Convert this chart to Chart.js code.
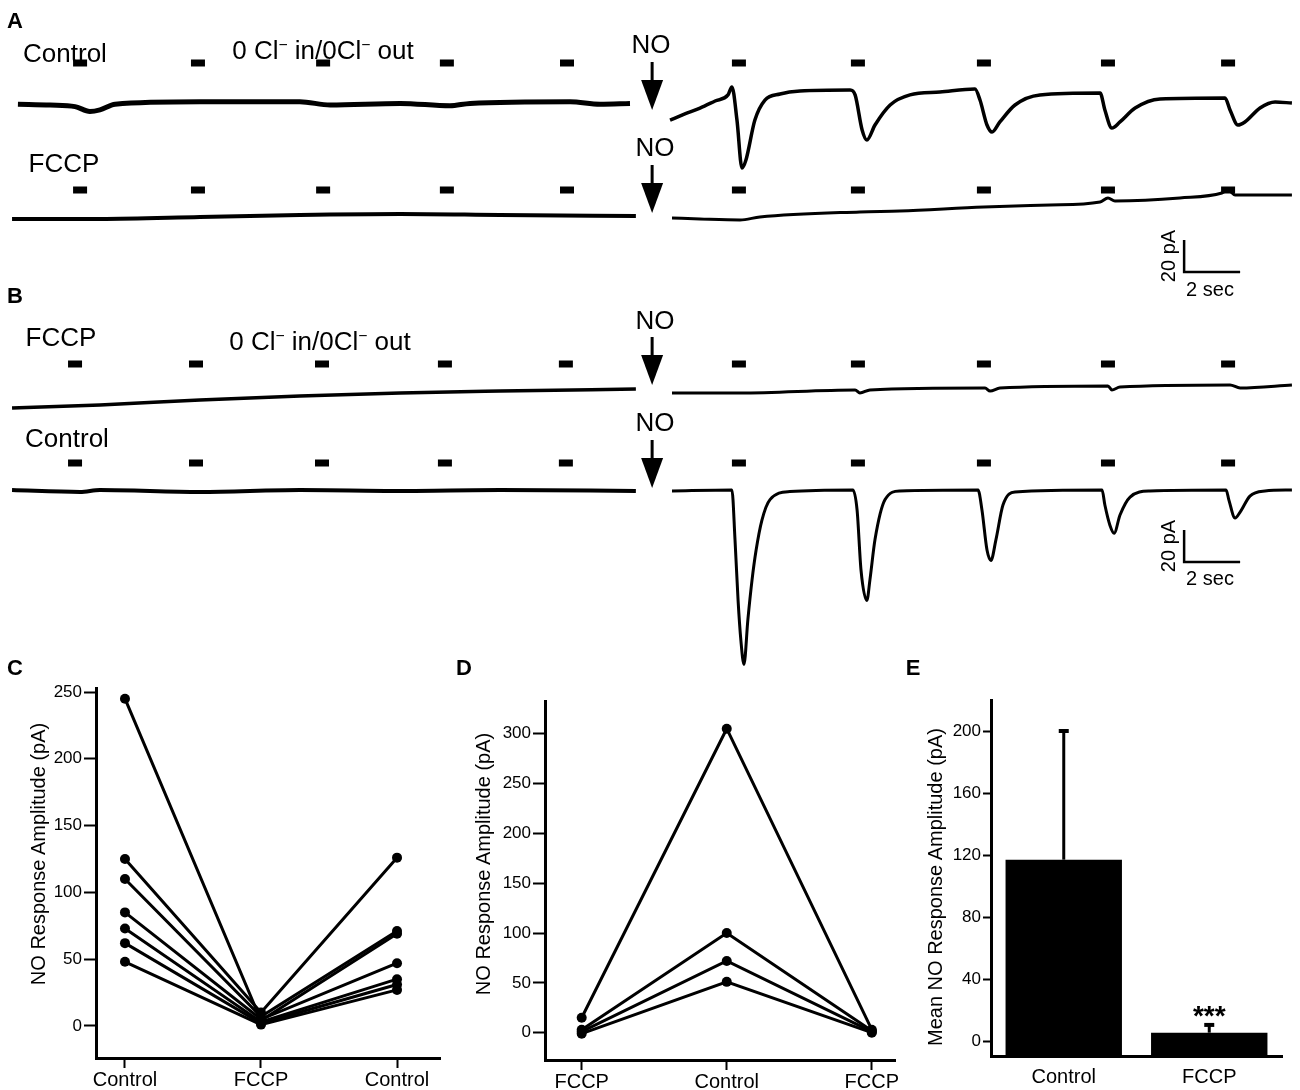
<!DOCTYPE html>
<html>
<head>
<meta charset="utf-8">
<script src="https://cdn.jsdelivr.net/npm/chart.js@4.4.0/dist/chart.umd.min.js"></script>
<style>
  body { margin: 0; background: #fff; }
  #fig { position: relative; width: 1300px; height: 1090px; font-family: "Liberation Sans", Arial, sans-serif; color: #000; }
  canvas { position: absolute; }
  .t { position: absolute; white-space: nowrap; line-height: 1; transform: translate(-50%, -50%); }
  .lab { font-size: 26px; }
  .panel { font-size: 22px; font-weight: bold; }
  .cal { font-size: 20px; }
  .ytitle { font-size: 20px; transform: translate(-50%, -50%) rotate(-90deg); }
  sup { font-size: 0.6em; vertical-align: 0.6em; line-height: 0; }
</style>
</head>
<body>
<div id="fig">
  <canvas id="traces" width="1300" height="670" style="left:0px;top:0px"></canvas>
  <canvas id="chartC" width="450" height="435" style="left:0px;top:655px"></canvas>
  <canvas id="chartD" width="450" height="435" style="left:450px;top:655px"></canvas>
  <canvas id="chartE" width="400" height="435" style="left:900px;top:655px"></canvas>

  <div class="t panel" style="left:15px;top:21px">A</div>
  <div class="t lab" style="left:65px;top:53px">Control</div>
  <div class="t lab" style="left:323px;top:50px">0 Cl<sup>−</sup> in/0Cl<sup>−</sup> out</div>
  <div class="t lab" style="left:651px;top:44px">NO</div>
  <div class="t lab" style="left:64px;top:163px">FCCP</div>
  <div class="t lab" style="left:655px;top:147px">NO</div>
  <div class="t cal ytitle" style="left:1168px;top:256px">20 pA</div>
  <div class="t cal" style="left:1210px;top:289px">2 sec</div>

  <div class="t panel" style="left:15px;top:296px">B</div>
  <div class="t lab" style="left:61px;top:337px">FCCP</div>
  <div class="t lab" style="left:320px;top:341px">0 Cl<sup>−</sup> in/0Cl<sup>−</sup> out</div>
  <div class="t lab" style="left:655px;top:320px">NO</div>
  <div class="t lab" style="left:67px;top:438px">Control</div>
  <div class="t lab" style="left:655px;top:422px">NO</div>
  <div class="t cal ytitle" style="left:1168px;top:546px">20 pA</div>
  <div class="t cal" style="left:1210px;top:578px">2 sec</div>

  <div class="t panel" style="left:15px;top:668px">C</div>
  <div class="t panel" style="left:464px;top:668px">D</div>
  <div class="t panel" style="left:913px;top:668px">E</div>
  <div class="t ytitle" style="left:38px;top:854px">NO Response Amplitude (pA)</div>
  <div class="t ytitle" style="left:483px;top:864px">NO Response Amplitude (pA)</div>
  <div class="t ytitle" style="left:935px;top:887px">Mean NO Response Amplitude (pA)</div>
</div>

<script>
// ---- A/B recordings: time (s) and current (pA) relative to each row's baseline; null = gap at NO application
const tA1 = [0.64, 1.79, 2.68, 3.21, 3.57, 4.11, 7.14, 10.71, 11.79, 14.29, 16.07, 16.79, 20.36, 21.43, 22.5, 23.4,
             23.93, 24.46, 25.0, 25.54, 26.0, 26.14, 26.32, 26.5, 26.64, 26.96, 27.32, 27.86, 28.57, 30.36, 30.54,
             30.79, 30.96, 31.25, 31.79, 32.5, 33.57, 34.82, 35.0, 35.25, 35.43, 35.71, 36.25, 37.14, 39.29, 39.46,
             39.71, 40.0, 40.54, 41.43, 43.75, 43.93, 44.21, 44.46, 45.0, 45.54, 46.14];
const iA1 = [0.5, 0, -1, -4, -3, 0.5, 2, 2, 0, 1, -0.5, 1, 2, 0.5, 1, null,
             -9.4, -5.6, -1.9, 2.5, 6.3, 11.3, -9.4, -39.4, -34.4, -9.4, 3.1, 6.9, 8.8, 9.4, 6.3,
             -15.6, -21.9, -12.5, 0, 6.3, 8.1, 10, 3.1, -12.5, -16.9, -10.6, 0, 6.3, 7.5, -3.1,
             -14.4, -10.6, -1.9, 3.8, 4.4, -3.1, -12.5, -10.6, -1.9, 1.9, 1.2];

const tA2 = [0.43, 3.57, 7.14, 10.71, 14.29, 17.86, 22.71, 23.4,
             24.0, 25.0, 26.43, 27.14, 30.71, 32.14, 35.14, 37.5, 39.29, 39.57, 39.82, 42.14, 43.64, 43.86, 44.11, 46.14];
const iA2 = [-0.6, -0.6, 0.6, 1.9, 2.5, 1.9, 1.2, null,
             0, -0.6, -1.2, 0.6, 3.8, 4.4, 6.9, 8.1, 10, 12.5, 10.6, 12.5, 15.6, 17.5, 14.4, 14.4];

const tB1 = [0.43, 3.57, 7.14, 10.71, 14.29, 17.86, 22.71, 23.4,
             24.0, 26.43, 30.54, 30.71, 31.07, 35.18, 35.36, 35.71, 39.57, 39.71, 40.0, 43.93, 44.29, 46.14];
const iB1 = [-5, -3.1, 0, 2.5, 4.4, 5.6, 6.9, null,
             4.4, 4.4, 6.3, 4.4, 6.3, 7.5, 5.6, 7.5, 8.8, 6.3, 8.1, 9.4, 7.5, 9.4];

const tB2 = [0.43, 2.86, 3.57, 7.14, 10.71, 14.29, 17.86, 22.71, 23.4,
             24.0, 26.14, 26.25, 26.36, 26.46, 26.57, 26.71, 26.86, 27.0, 27.21, 27.5, 28.21,
             30.46, 30.61, 30.75, 30.96, 31.07, 31.25, 31.61, 32.14,
             34.93, 35.07, 35.25, 35.39, 35.57, 35.82, 36.25,
             39.36, 39.46, 39.64, 39.79, 40.0, 40.36, 41.07,
             43.79, 43.89, 44.11, 44.29, 44.64, 45.18, 46.14];
const iB2 = [0, -1.2, 0, -1.2, 0, -0.6, 0, -0.6, null,
             -0.6, 0, -31, -69, -94, -109, -81, -56, -38, -19, -6, -1,
             0, -12.5, -50, -69, -56, -31, -6, -0.6,
             0, -12.5, -37.5, -44, -31, -9.4, -1.2,
             0, -9.4, -22, -27, -15.6, -4.4, -0.6,
             0, -6.3, -17.5, -13.8, -3.8, -0.6, 0];

const puffA = [2.86, 7.07, 11.54, 15.96, 20.25, 26.39, 30.64, 35.14, 39.57, 43.86];
const puffB = [2.68, 7.0, 11.5, 15.89, 20.21, 26.39, 30.64, 35.14, 39.57, 43.86];
const noTime = 23.29;
const calPA = 20, calSec = 2;

// ---- C: paired amplitudes
const catsC = ['Control', 'FCCP', 'Control'];
const cCtrl1 = [245, 125, 110, 85, 73, 62, 48];
const cFccp = [4, 10, 7, 5, 3, 2, 1];
const cCtrl2 = [69, 126, 71, 47, 35, 31, 27];

// ---- D: paired amplitudes
const catsD = ['FCCP', 'Control', 'FCCP'];
const dFccp1 = [15, 3, 1, -1];
const dCtrl = [305, 100, 72, 51];
const dFccp2 = [3, 2, 1, 0];

// ---- E: means
const catsE = ['Control', 'FCCP'];
const eMean = [117, 5.4];
const eSem = [83, 5];
const eSig = ['', '***'];

// layout of the recording panel
const PX_PER_S = 28, PX_PER_PA = 1.6;
const toY = px => px / PX_PER_PA;
const rows = [
  { t: tA1, i: iA1, base: 105, wL: 5, wR: 3.5 },
  { t: tA2, i: iA2, base: 218, wL: 4, wR: 3 },
  { t: tB1, i: iB1, base: 400, wL: 3.5, wR: 3 },
  { t: tB2, i: iB2, base: 490, wL: 4, wR: 3 }
];
const markRows = [{ y: 63, times: puffA }, { y: 190, times: puffA }, { y: 364, times: puffB }, { y: 463, times: puffB }];
const arrows = [[62, 110], [165, 213], [337, 385], [440, 488]];
const calBottoms = [272, 562];
const calX = 42.29;

const base = { responsive: false, animation: false, events: [],
  plugins: { legend: { display: false }, tooltip: { enabled: false } } };

const traceSets = [];
rows.forEach(r => {
  traceSets.push({
    data: r.t.map((t, k) => ({ x: t, y: r.i[k] === null ? null : toY(r.base) - r.i[k] })),
    borderColor: '#000', borderWidth: r.wR, pointRadius: 0, spanGaps: false,
    cubicInterpolationMode: 'monotone',
    segment: { borderWidth: c => (c.p1.parsed.x < noTime ? r.wL : r.wR) }
  });
});
markRows.forEach(m => {
  const pts = [];
  m.times.forEach(t => {
    pts.push({ x: t - 0.25, y: toY(m.y) }, { x: t + 0.25, y: toY(m.y) }, { x: t + 0.3, y: null });
  });
  traceSets.push({ data: pts, borderColor: '#000', borderWidth: 7, borderCapStyle: 'butt', pointRadius: 0, spanGaps: false });
});
calBottoms.forEach(b => {
  traceSets.push({
    data: [{ x: calX, y: toY(b) - calPA }, { x: calX, y: toY(b) }, { x: calX + calSec, y: toY(b) }],
    borderColor: '#000', borderWidth: 2.5, borderJoinStyle: 'miter', pointRadius: 0
  });
});

const arrowPlugin = {
  id: 'arrows',
  afterDatasetsDraw(chart) {
    const { ctx, scales: { x, y } } = chart;
    const px = x.getPixelForValue(noTime);
    ctx.save();
    ctx.strokeStyle = '#000';
    ctx.fillStyle = '#000';
    arrows.forEach(([a, b]) => {
      const y0 = y.getPixelForValue(toY(a)), y1 = y.getPixelForValue(toY(b));
      ctx.lineWidth = 3;
      ctx.beginPath(); ctx.moveTo(px, y0); ctx.lineTo(px, y1 - 20); ctx.stroke();
      ctx.beginPath(); ctx.moveTo(px - 11, y1 - 30); ctx.lineTo(px + 11, y1 - 30); ctx.lineTo(px, y1); ctx.closePath(); ctx.fill();
    });
    ctx.restore();
  }
};

new Chart(document.getElementById('traces'), {
  type: 'line',
  data: { datasets: traceSets },
  options: { ...base, layout: { padding: 0 },
    scales: {
      x: { type: 'linear', display: false, min: 0, max: 1300 / PX_PER_S },
      y: { type: 'linear', display: false, reverse: true, min: 0, max: 670 / PX_PER_PA }
    } },
  plugins: [arrowPlugin]
});

// ---- paired line charts (C, D)
const tickFont = { family: '"Liberation Sans", Arial, sans-serif', size: 17 };
const catFont = { family: '"Liberation Sans", Arial, sans-serif', size: 20 };
function pairedChart(id, cats, cols, o) {
  const sets = cols[0].map((_, k) => ({
    data: cols.map((c, j) => ({ x: j, y: c[k] })),
    borderColor: '#000', borderWidth: 3, pointRadius: 5, pointBackgroundColor: '#000', pointBorderWidth: 0, clip: false
  }));
  new Chart(document.getElementById(id), {
    type: 'line',
    data: { datasets: sets },
    options: { ...base, layout: { padding: { left: 0, top: o.top, right: o.right, bottom: 0 } },
      scales: {
        x: { type: 'linear', min: o.xMin, max: o.xMax,
          afterBuildTicks: s => { s.ticks = cats.map((_, j) => ({ value: j })); },
          afterFit: s => { s.height = o.xH; },
          ticks: { callback: v => cats[v], font: catFont, color: '#000', padding: 0, autoSkip: false, maxRotation: 0 },
          grid: { drawOnChartArea: false, tickLength: 10, tickWidth: 2, tickColor: '#000' },
          border: { color: '#000', width: 3 } },
        y: { type: 'linear', min: o.yMin, max: o.yMax,
          afterBuildTicks: s => { s.ticks = o.yTicks.map(v => ({ value: v })); },
          afterFit: s => { s.width = o.yW; },
          ticks: { font: tickFont, color: '#000', padding: 2 },
          grid: { drawOnChartArea: false, tickLength: 12, tickWidth: 2, tickColor: '#000' },
          border: { color: '#000', width: 3 } }
      } }
  });
}

pairedChart('chartC', catsC, [cCtrl1, cFccp, cCtrl2],
  { top: 33, right: 10, xH: 32, yW: 96, xMin: -0.213, xMax: 2.316, yMin: -24, yMax: 253, yTicks: [0, 50, 100, 150, 200, 250] });
pairedChart('chartD', catsD, [dFccp1, dCtrl, dFccp2],
  { top: 46, right: 5, xH: 30, yW: 95, xMin: -0.253, xMax: 2.16, yMin: -27.4, yMax: 332.8, yTicks: [0, 50, 100, 150, 200, 250, 300] });

// ---- E: bar chart with SEM
const E_MIN = -10.1;
const errPlugin = {
  id: 'errbars',
  afterDatasetsDraw(chart) {
    const { ctx, scales: { y } } = chart;
    const meta = chart.getDatasetMeta(0);
    ctx.save();
    ctx.strokeStyle = '#000';
    ctx.fillStyle = '#000';
    meta.data.forEach((bar, k) => {
      const top = y.getPixelForValue(eMean[k] + eSem[k]);
      ctx.lineWidth = 3;
      ctx.beginPath(); ctx.moveTo(bar.x, bar.y); ctx.lineTo(bar.x, top); ctx.stroke();
      ctx.lineWidth = 4;
      ctx.beginPath(); ctx.moveTo(bar.x - 5, top); ctx.lineTo(bar.x + 5, top); ctx.stroke();
      if (eSig[k]) {
        ctx.font = 'bold 28px "Liberation Sans", Arial, sans-serif';
        ctx.textAlign = 'center';
        ctx.textBaseline = 'middle';
        ctx.fillText(eSig[k], bar.x, top - 8);
      }
    });
    ctx.restore();
  }
};

new Chart(document.getElementById('chartE'), {
  type: 'bar',
  data: { labels: catsE, datasets: [{ data: eMean, base: E_MIN, backgroundColor: '#000', barPercentage: 0.8, categoryPercentage: 1.0 }] },
  options: { ...base, layout: { padding: { left: 0, top: 45, right: 18, bottom: 0 } },
    scales: {
      x: { afterFit: s => { s.height = 33.3; },
        ticks: { font: catFont, color: '#000', padding: 1 },
        grid: { display: false },
        border: { color: '#000', width: 3 } },
      y: { min: E_MIN, max: 220,
        afterBuildTicks: s => { s.ticks = [0, 40, 80, 120, 160, 200].map(v => ({ value: v })); },
        afterFit: s => { s.width = 91; },
        ticks: { font: tickFont, color: '#000', padding: 2 },
        grid: { drawOnChartArea: false, tickLength: 8, tickWidth: 2, tickColor: '#000' },
        border: { color: '#000', width: 3 } }
    } },
  plugins: [errPlugin]
});
</script>
</body>
</html>
